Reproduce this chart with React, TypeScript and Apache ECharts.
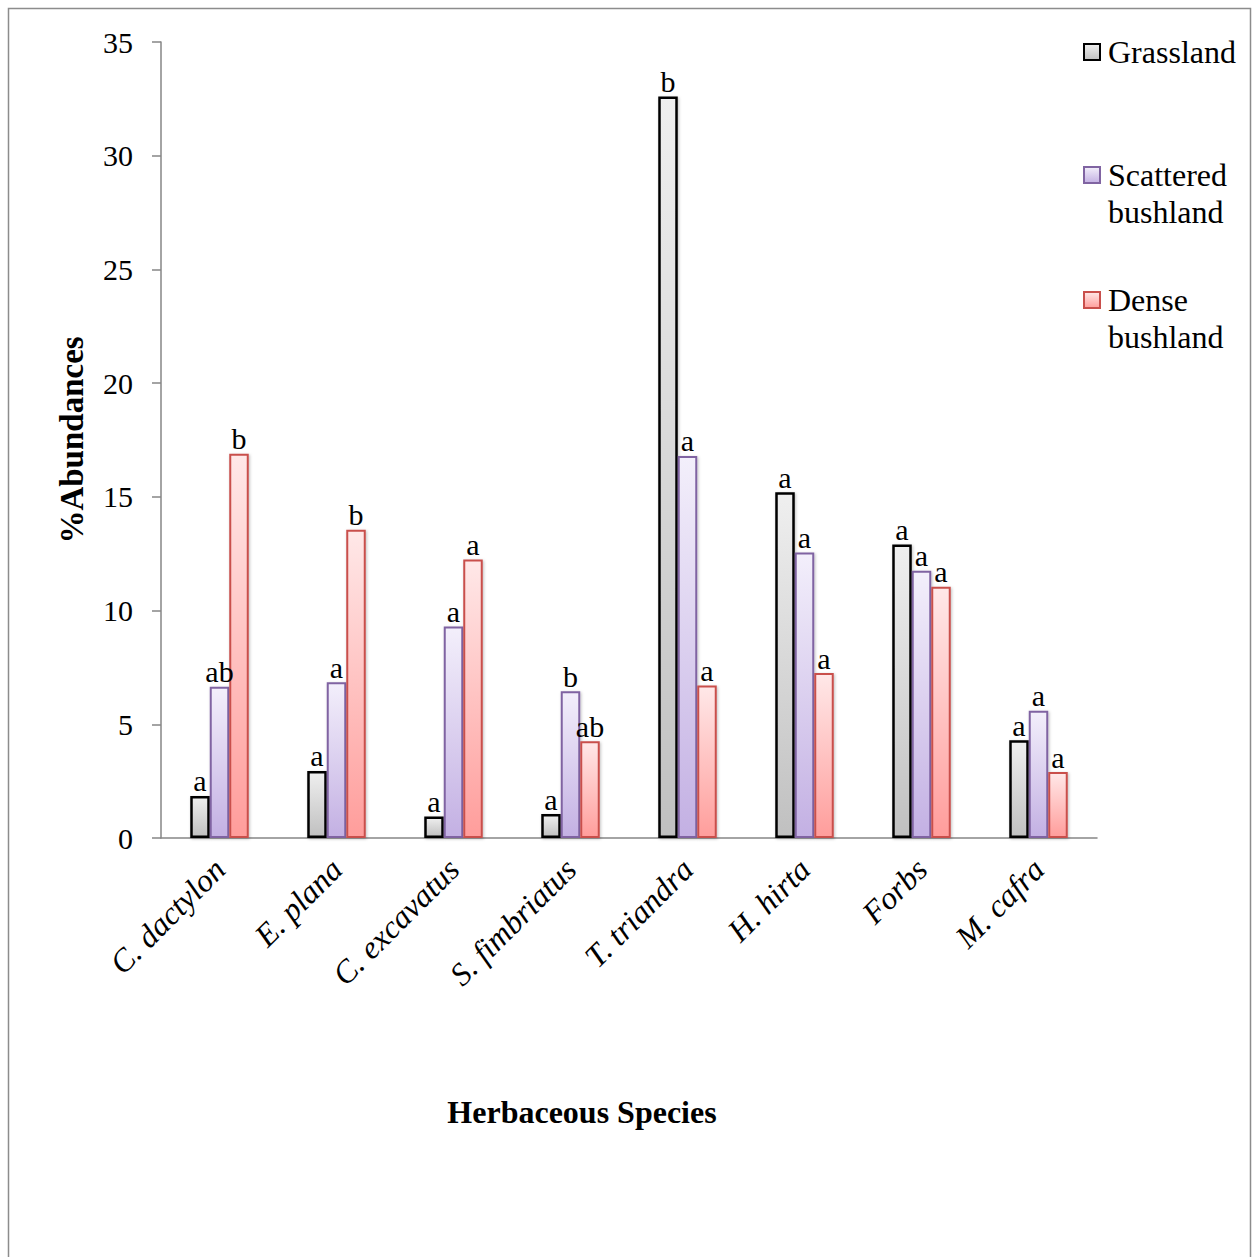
import React, { useEffect, useRef } from "react";
import * as echarts from "echarts";

const categories = ["C. dactylon", "E. plana", "C. excavatus", "S. fimbriatus", "T. triandra", "H. hirta", "Forbs", "M. cafra"];
const grassland = [1.85, 2.95, 0.95, 1.05, 32.6, 15.2, 12.9, 4.3];
const scattered = [6.65, 6.85, 9.3, 6.45, 16.8, 12.55, 11.75, 5.6];
const dense = [16.9, 13.55, 12.25, 4.25, 6.7, 7.25, 11.05, 2.9];
const grasslandLetters = ["a", "a", "a", "a", "b", "a", "a", "a"];
const scatteredLetters = ["ab", "a", "a", "b", "a", "a", "a", "a"];
const denseLetters = ["b", "b", "a", "ab", "a", "a", "a", "a"];
const yTicks = [0, 5, 10, 15, 20, 25, 30, 35];

const FONT = "'Liberation Serif', 'Times New Roman', serif";

function grad(top: string, bottom: string) {
  return new echarts.graphic.LinearGradient(0, 0, 0, 1, [
    { offset: 0, color: top },
    { offset: 1, color: bottom },
  ]);
}

export default function App() {
  const ref = useRef<HTMLDivElement>(null);
  useEffect(() => {
    if (!ref.current) return;
    const chart = echarts.init(ref.current, null, { renderer: "svg" });
    const labelStyle = (letters: string[]) => ({
      show: true,
      position: "top",
      distance: 0,
      formatter: (p: any) => letters[p.dataIndex],
      color: "#000",
      fontFamily: FONT,
      fontSize: 30,
      lineHeight: 30,
    });
    const mkSeries = (name: string, data: number[], letters: string[], top: string, bottom: string, border: string, bw: number) => ({
      name,
      type: "bar",
      data,
      barWidth: 19.5,
      barGap: "0%",
      itemStyle: {
        color: grad(top, bottom),
        borderColor: border,
        borderWidth: bw,
        shadowBlur: 3,
        shadowColor: "rgba(0,0,0,0.25)",
        shadowOffsetX: 1,
        shadowOffsetY: 1,
      },
      label: labelStyle(letters),
    });
    const legendBase = {
      orient: "vertical",
      left: 1078,
      itemWidth: 16,
      itemHeight: 16,
      itemGap: 0,
      icon: "rect",
      textStyle: {
        color: "#000",
        fontFamily: FONT,
        fontSize: 32,
        padding: [0, 0, 0, 3],
        rich: {
          s: { fontFamily: FONT, fontSize: 32, lineHeight: 37, color: "#000" },
        },
      },
      formatter: (name: string) => {
        if (name === "Grassland") return "{s|Grassland}";
        const parts = name.split(" ");
        return "{s| }\n{s|" + parts[0] + "}\n{s|" + parts[1] + "}";
      },
    };
    chart.setOption({
      animation: false,
      backgroundColor: "#fff",
      graphic: [
        {
          type: "rect",
          shape: { x: 8.5, y: 8.5, width: 1242, height: 1262 },
          style: { fill: "none", stroke: "#8c8c8c", lineWidth: 1.5 },
          silent: true,
        },
      ],
      legend: [
        { ...legendBase, data: ["Grassland"], top: 31 },
        { ...legendBase, data: ["Scattered bushland"], top: 117 },
        { ...legendBase, data: ["Dense bushland"], top: 242 },
      ],
      grid: { left: 161, right: 155, top: 42, bottom: 419, containLabel: false },
      xAxis: {
        type: "category",
        data: categories,
        name: "Herbaceous Species",
        nameLocation: "middle",
        nameGap: 258,
        nameTextStyle: {
          fontFamily: FONT,
          fontSize: 32,
          fontWeight: "bold",
          color: "#000",
          padding: [0, 94, 0, 0],
        },
        axisLine: { show: true, lineStyle: { color: "#868686", width: 1.5 } },
        axisTick: { show: false },
        axisLabel: {
          rotate: 45,
          margin: 26,
          interval: 0,
          fontFamily: FONT,
          fontSize: 32,
          fontStyle: "italic",
          color: "#000",
        },
      },
      yAxis: {
        type: "value",
        min: yTicks[0],
        max: yTicks[yTicks.length - 1],
        interval: 5,
        name: "%Abundances",
        nameLocation: "middle",
        nameGap: 73,
        nameTextStyle: {
          fontFamily: FONT,
          fontSize: 33,
          fontWeight: "bold",
          color: "#000",
        },
        splitLine: { show: false },
        axisLine: { show: true, lineStyle: { color: "#868686", width: 1.5 } },
        axisTick: { show: true, length: 9, lineStyle: { color: "#868686", width: 1.5 } },
        axisLabel: {
          margin: 28,
          fontFamily: FONT,
          fontSize: 30,
          color: "#000",
        },
      },
      series: [
        mkSeries("Grassland", grassland, grasslandLetters, "#efefef", "#c0c0c0", "#000000", 2.5),
        mkSeries("Scattered bushland", scattered, scatteredLetters, "#f3effb", "#c3b0e3", "#8064a2", 2),
        mkSeries("Dense bushland", dense, denseLetters, "#ffe8e8", "#ff9d9b", "#c94f4c", 2),
      ],
    });
    return () => chart.dispose();
  }, []);
  return (
    <div
      ref={ref}
      style={{ position: "fixed", left: 0, top: 0, width: 1252, height: 1257 }}
    />
  );
}
